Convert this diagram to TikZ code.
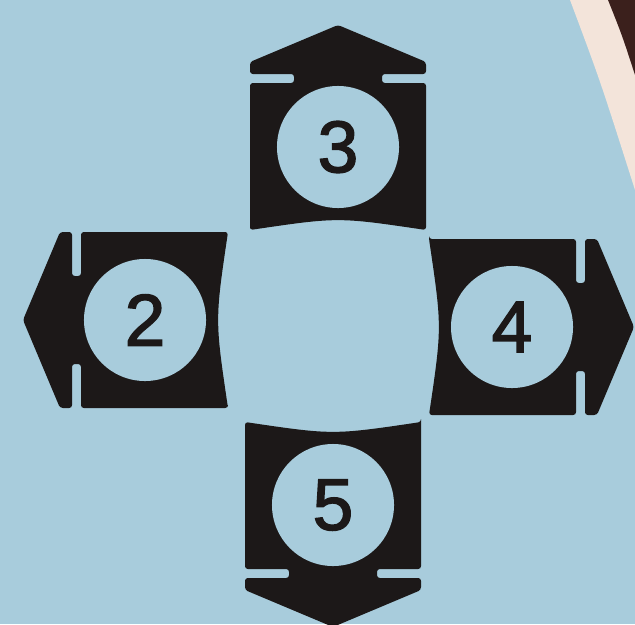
\documentclass[tikz,border=0pt]{standalone}
\usepackage{fontspec}
\newfontfamily\keyfont[FakeBold=2]{Liberation Sans}
\usepackage{tikz}
\usetikzlibrary{positioning}
\definecolor{paper}{RGB}{168,204,220}
\definecolor{ink}{RGB}{28,24,24}
\definecolor{cream}{RGB}{243,228,218}
\definecolor{edgebrown}{RGB}{59,32,28}

\begin{document}
\begin{tikzpicture}[x=0.025cm, y=-0.025cm,
  hole/.style={circle, fill=paper, text=ink, inner sep=0pt, minimum size=3.05cm, font=\keyfont\fontsize{52}{52}\selectfont},
  padkey/.pic={\fill[ink, rounded corners=2pt] (-88,83) -- (-88,-64) -- (-44,-64) -- (-44,-73) -- (-88,-73) -- (-88,-85) -- (0,-122) -- (88,-85) -- (88,-73) -- (44,-73) -- (44,-64) -- (88,-64) -- (88,83) .. controls (0,70) .. (-88,83) -- cycle;}]
\useasboundingbox (0,0) rectangle (635,624);
\fill[paper] (0,0) rectangle (635,624);
% page edge, top right
\fill[cream] (570,0) .. controls (600,80) .. (635,190) -- (635,0) -- cycle;
\fill[edgebrown] (608,0) .. controls (622,35) .. (635,75) -- (635,0) -- cycle;
\foreach \n/\x/\y/\r in {3/338/147/0, 2/145/320/90, 4/512/327/-90, 5/333/505/180} {
  \pic[rotate=\r] at (\x,\y) {padkey};
  \node[hole] (k\n) at (\x,\y) {\n};
}
\end{tikzpicture}
\end{document}
